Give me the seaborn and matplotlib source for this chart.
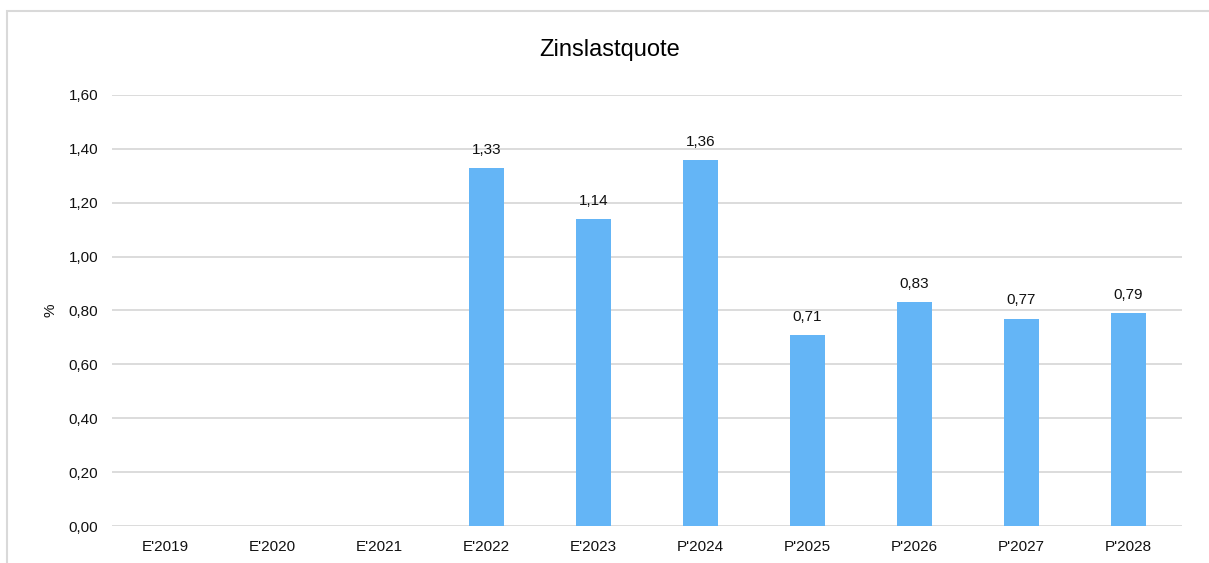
import pandas as pd
import matplotlib.pyplot as plt
import seaborn as sns
from matplotlib.patches import Rectangle

# Chart data
years = ["E'2019", "E'2020", "E'2021", "E'2022", "E'2023",
         "P'2024", "P'2025", "P'2026", "P'2027", "P'2028"]
quote = [0, 0, 0, 1.33, 1.14, 1.36, 0.71, 0.83, 0.77, 0.79]
y_ticks = [0.0, 0.2, 0.4, 0.6, 0.8, 1.0, 1.2, 1.4, 1.6]

df = pd.DataFrame({"year": years, "quote": quote})

sns.set_theme(style="white")
plt.rcParams['font.family'] = ['Liberation Sans', 'DejaVu Sans']

fig = plt.figure(figsize=(12.09, 5.63), dpi=100)
ax = fig.add_axes([0.0926, 0.0657, 0.8851, 0.7656])

sns.barplot(data=df, x="year", y="quote", color="#64B5F6", saturation=1,
            width=0.32, ax=ax, zorder=3, linewidth=0)

ax.set_ylim(0, 1.6)
ax.set_xlim(-0.5, 9.5)
ax.set_yticks(y_ticks)
ax.set_yticklabels([f"{v:.2f}".replace(".", ",") for v in y_ticks])
ax.yaxis.grid(True, color="#D9D9D9", linewidth=1.3, zorder=0)
ax.tick_params(axis="both", length=0, labelsize=11, colors="#111111", pad=10)
for s in ax.spines.values():
    s.set_visible(False)

ax.set_xlabel("")
ax.set_ylabel("%", fontsize=11, color="#111111", labelpad=8)

# value labels (skip empty years)
labels = [f"{v:.2f}".replace(".", ",") if v > 0 else "" for v in quote]
ax.bar_label(ax.containers[0], labels=labels, padding=8, fontsize=11, color="#111111")

fig.text(0.5045, 0.912, "Zinslastquote", ha="center", va="center",
         fontsize=17, color="#000000")

# light frame around the chart area
fig.patches.append(Rectangle((6.5 / 1209, -0.1), 1.1, 1 - 11.5 / 563 + 0.1,
                             transform=fig.transFigure, fill=False,
                             edgecolor="#D9D9D9", linewidth=1.5))

fig.savefig("out.png", dpi=100)
